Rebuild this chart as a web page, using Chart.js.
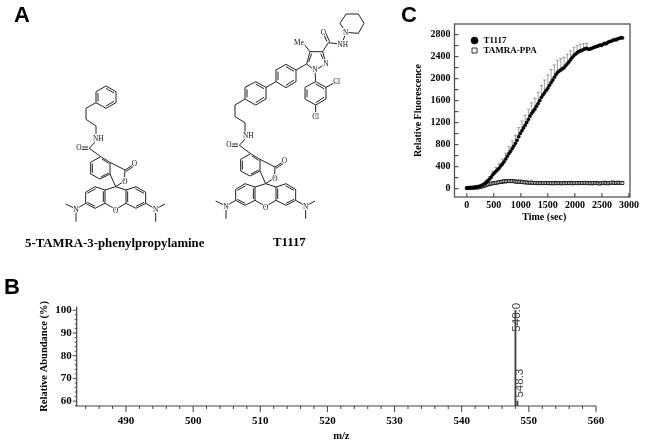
<!DOCTYPE html>
<html>
<head>
<meta charset="utf-8">
<script src="https://cdn.jsdelivr.net/npm/chart.js@4"></script>
<style>
html,body{margin:0;padding:0;background:#fff;width:645px;height:445px;overflow:hidden}
#page{position:absolute;left:0;top:0;width:645px;height:445px;filter:blur(0.35px)}
canvas,svg{position:absolute}
.t{position:absolute;white-space:nowrap;font-weight:bold;color:#000;line-height:1}
.letter{font-family:"Liberation Sans",sans-serif;font-size:22px}
.name{font-family:"Liberation Serif",serif;font-size:12.8px}
svg text{font-family:"Liberation Serif",serif;font-size:22px;fill:#111;text-anchor:middle;dominant-baseline:central;stroke:#fff;stroke-width:6px;paint-order:stroke}
svg path{fill:none;stroke:#222;stroke-width:3;stroke-linejoin:round}
</style>
</head>
<body>
<div id="page">
<div class="t letter" style="left:14px;top:4px">A</div>
<div class="t letter" style="left:4px;top:276px">B</div>
<div class="t letter" style="left:401px;top:4px">C</div>
<div class="t name" style="left:25px;top:237px">5-TAMRA-3-phenylpropylamine</div>
<div class="t name" style="left:273px;top:236px">T1117</div>

<svg width="645" height="260" viewBox="0 0 1935 780" style="left:0;top:0">
<defs>
<g id="core">
<path d="M295 415L268 445M268 445L302 470L330 487L330 522L300 537L272 522L272 487L302 470M264 441L240 441M264 448L240 448M306 477L326 490M326 519L303 531M277 491L277 518"/>
<path d="M330 487L375 510L373 543L347 560L330 522M375 510L400 494M378 514L402 498"/>
<path d="M347 560L315 570L285 560L257 577L257 610L285 625L315 610L315 570M347 560L378 570L408 560L437 577L437 610L408 625L378 610L378 570M315 610L347 628L378 610"/>
<path d="M287 566L262 580M262 607L285 619M310 606L310 574M406 566L432 580M432 607L408 619M383 606L383 574"/>
<path d="M257 610L228 627L197 612M228 627L228 665M437 610L467 627L495 612M467 627L467 665"/>
<text x="295" y="415">NH</text><text x="237" y="443">O</text><text x="403" y="491">O</text>
<text x="375" y="544">O</text><text x="347" y="630">O</text><text x="228" y="627">N</text><text x="467" y="627">N</text>
</g>
</defs>
<path d="M318 258L348 275L348 308L318 325L288 308L288 275ZM318 265L342 279M342 304L318 318M294 304L294 279M288 308L258 325L258 358L288 378L288 405"/>
<use href="#core"/>
<g transform="translate(600,0)">
<use href="#core" transform="translate(-150,-9)"/>
<path d="M135 395L135 368L105 350L105 315L135 297L135 262L167 245L198 262L198 297L167 315L135 297M141 268L141 292M167 252L192 266M192 292L167 308"/>
<path d="M198 262L228 245L228 210L258 193L288 210L288 245L258 263L228 245M234 215L234 240M258 200L282 214M282 240L258 256M288 210L320 192"/>
<path d="M320 192L345 212L378 190L368 155L330 155L320 192M326 186L335 161M362 161L372 184M330 155L310 130M368 155L385 128L428 133M381 125L370 100M389 125L376 97"/>
<path d="M438 97L420 70L438 42L475 42L492 70L475 100L438 97M428 125L438 97"/>
<path d="M345 212L347 245L378 262L378 297L347 315L315 297L315 262L347 245M347 252L372 266M372 292L347 308M321 292L321 268M378 262L410 245M347 315L347 350"/>
<text x="297" y="128">Me</text><text x="370" y="97">O</text><text x="428" y="133">NH</text><text x="437" y="98">N</text>
<text x="345" y="208">N</text><text x="378" y="190">N</text><text x="410" y="245">Cl</text><text x="347" y="350">Cl</text>
</g>
</svg>

<canvas id="chartC" width="245" height="230" style="left:400px;top:0"></canvas>
<canvas id="chartB" width="645" height="150" style="left:0;top:295px"></canvas>
</div>

<script>
// ---- Panel C data ----
const timeSec = [0,30,60,90,120,150,180,210,240,270,300,330,360,390,420,450,480,510,540,570,600,630,660,690,720,750,780,810,840,870,900,930,960,990,1020,1050,1080,1110,1140,1170,1200,1230,1260,1290,1320,1350,1380,1410,1440,1470,1500,1530,1560,1590,1620,1650,1680,1710,1740,1770,1800,1830,1860,1890,1920,1950,1980,2010,2040,2070,2100,2130,2160,2190,2220,2250,2280,2310,2340,2370,2400,2430,2460,2490,2520,2550,2580,2610,2640,2670,2700,2730,2760,2790,2820,2850,2880];
const t1117 = [15,18,20,22,25,28,32,38,45,58,72,92,118,145,175,210,255,285,315,345,375,415,450,490,540,590,640,680,730,775,825,880,945,1005,1055,1105,1155,1205,1260,1320,1370,1410,1450,1500,1550,1605,1660,1705,1745,1790,1830,1880,1930,1975,2025,2075,2115,2140,2160,2180,2200,2235,2270,2305,2345,2385,2420,2445,2470,2490,2505,2515,2530,2545,2550,2535,2540,2550,2565,2575,2585,2595,2610,2605,2625,2640,2635,2660,2675,2680,2695,2710,2705,2725,2730,2745,2740];
const tamraPpa = [8,10,12,14,16,18,20,22,28,35,45,55,65,75,85,92,98,102,108,112,118,125,128,135,132,138,142,136,140,135,130,128,125,130,120,118,112,115,108,110,112,105,104,108,100,102,98,104,100,106,102,98,100,96,102,98,105,100,96,100,104,98,102,100,106,96,102,100,104,98,106,102,100,108,104,98,102,96,104,100,106,98,94,100,104,110,100,96,104,108,112,102,106,110,104,108,102];
const t1117ErrTimes = [300,360,420,480,540,600,660,720,780,840,900,960,1020,1080,1140,1200,1260,1320,1380,1440,1500,1560,1620,1680,1740,1800,1860,1920,1980,2040,2100,2160,2220];
const t1117ErrUp = [15,30,45,65,70,80,90,105,125,140,150,165,175,180,185,190,195,205,215,230,240,235,225,220,205,190,175,160,145,130,120,110,90];
const tamraErr = [0,0,0,0,0,0,0,0,0,0,12,14,16,18,18,20,20,22,22,22,24,24,26,26,24,26,24,24,26,24,22,24,22,24,20,22,20,22,20,22,20,22,20,22,20,20,22,20,20,22,20,22,20,20,22,20,22,20,20,22,20,20,22,20,22,20,20,22,20,22,20,20,22,20,20,22,20,22,20,20,22,20,20,22,20,22,20,20,22,20,22,20,20,22,20,20,22];
const seriesNames = ["T1117","TAMRA-PPA"];
const cXTicks = [0,500,1000,1500,2000,2500,3000];
const cYTicks = [0,400,800,1200,1600,2000,2400,2800];
const cYMinor = [200,600,1000,1400,1800,2200,2600];

// ---- Panel B data ----
const mzPeaks = [548.0,548.3];
const abundance = [100,60];
const peakNames = ["548.0","548.3"];
const bXTicks = [490,500,510,520,530,540,550,560];
const bYTicks = [60,70,80,90,100];

const boldFont = s => ({family:"Liberation Serif", size:s, weight:"bold", lineHeight:1.2});
function fixed(ticks){ return scale => { scale.ticks = ticks.map(v => ({value:v})); }; }

const panelC = {
  id:"panelC",
  afterLayout(chart){
    const lg = chart.legend;
    const w = lg.right - lg.left, h = lg.bottom - lg.top;
    lg.left = 69; lg.top = 35; lg.right = lg.left + w; lg.bottom = lg.top + h;
    chart.scales.x.right += 4;
  },
  beforeDatasetsDraw(chart){
    const {ctx, scales:{x,y}} = chart;
    ctx.save();
    ctx.lineWidth = 0.7;
    ctx.strokeStyle = "#777";
    t1117ErrTimes.forEach((t,i) => {
      const v = t1117[timeSec.indexOf(t)];
      const px = x.getPixelForValue(t), y0 = y.getPixelForValue(v), y1 = y.getPixelForValue(v + t1117ErrUp[i]);
      ctx.beginPath(); ctx.moveTo(px,y0); ctx.lineTo(px,y1); ctx.moveTo(px-1.6,y1); ctx.lineTo(px+1.6,y1); ctx.stroke();
    });
    ctx.strokeStyle = "#222";
    timeSec.forEach((t,i) => {
      if(!tamraErr[i]) return;
      const px = x.getPixelForValue(t), y0 = y.getPixelForValue(tamraPpa[i]-tamraErr[i]), y1 = y.getPixelForValue(tamraPpa[i]+tamraErr[i]);
      ctx.beginPath(); ctx.moveTo(px,y0); ctx.lineTo(px,y1); ctx.moveTo(px-1.4,y0); ctx.lineTo(px+1.4,y0); ctx.moveTo(px-1.4,y1); ctx.lineTo(px+1.4,y1); ctx.stroke();
    });
    ctx.restore();
  },
  afterDraw(chart){
    const {ctx, chartArea:a, scales:{x,y}} = chart;
    ctx.save();
    ctx.strokeStyle = "#555";
    ctx.lineWidth = 1.3;
    ctx.strokeRect(a.left,a.top,a.right-a.left,a.bottom-a.top);
    ctx.lineWidth = 1;
    ctx.strokeStyle = "#333";
    ctx.beginPath();
    cXTicks.forEach(v => { const p = x.getPixelForValue(v); ctx.moveTo(p,a.bottom); ctx.lineTo(p,a.bottom-4); });
    cYTicks.concat(cYMinor).forEach(v => { const p = y.getPixelForValue(v); ctx.moveTo(a.left,p); ctx.lineTo(a.left+4,p); });
    ctx.stroke();
    ctx.restore();
  }
};

new Chart(document.getElementById("chartC"), {
  type:"scatter",
  plugins:[panelC],
  data:{datasets:[
    {label:seriesNames[0], data:timeSec.map((t,i)=>({x:t,y:t1117[i]})), order:0,
     pointStyle:"circle", pointRadius:1.6, backgroundColor:"#000", borderColor:"#000", borderWidth:0.5},
    {label:seriesNames[1], data:timeSec.map((t,i)=>({x:t,y:tamraPpa[i]})), order:1,
     pointStyle:"rect", pointRadius:2, backgroundColor:"#fff", borderColor:"#000", borderWidth:0.8}
  ]},
  options:{
    responsive:false, animation:false, devicePixelRatio:1,
    layout:{padding:{left:0,right:15,top:24,bottom:0}},
    plugins:{tooltip:{enabled:false},
      legend:{position:"chartArea",align:"start",
        labels:{usePointStyle:true,boxWidth:9,boxHeight:5,padding:1,color:"#000",font:boldFont(9)}}},
    scales:{
      x:{type:"linear",min:-228,max:3020,afterBuildTicks:fixed(cXTicks),
        afterFit(s){s.height=33;},
        border:{display:false},grid:{display:false,drawTicks:false},
        ticks:{color:"#000",font:boldFont(10),padding:2,maxRotation:0,autoSkip:false,callback:v=>String(v)},
        title:{display:true,text:"Time (sec)",color:"#000",font:boldFont(10),padding:{top:0,bottom:7}}},
      y:{type:"linear",min:-151,max:2994,afterBuildTicks:fixed(cYTicks),
        afterFit(s){s.width=54.5;},
        border:{display:false},grid:{display:false,drawTicks:false},
        ticks:{color:"#000",font:boldFont(10),padding:4,autoSkip:false,callback:v=>String(v)},
        title:{display:true,text:"Relative Fluorescence",color:"#000",font:boldFont(10),padding:{top:12,bottom:0}}}
    }
  }
});

const peakLabelShift = [[1.5,7],[2,-18]];
const panelB = {
  id:"panelB",
  afterLayout(chart){ chart.scales.x.right += 10; },
  afterDraw(chart){
    const {ctx, chartArea:a, scales:{x,y}} = chart;
    ctx.save();
    ctx.strokeStyle = "#444";
    ctx.lineWidth = 1.2;
    ctx.beginPath();
    ctx.moveTo(a.left,a.top); ctx.lineTo(a.left,a.bottom); ctx.lineTo(a.right,a.bottom);
    ctx.stroke();
    ctx.lineWidth = 1;
    ctx.beginPath();
    for(let v=484; v<=560; v+=2){ const p=x.getPixelForValue(v); ctx.moveTo(p,a.bottom); ctx.lineTo(p,a.bottom+(v%10===0?6:3)); }
    for(let v=58; v<=100; v+=2){ const p=y.getPixelForValue(v); ctx.moveTo(a.left,p); ctx.lineTo(a.left-(v%10===0?4:2),p); }
    ctx.stroke();
    ctx.fillStyle = "#444";
    ctx.font = "11.5px 'Liberation Sans', sans-serif";
    ctx.textAlign = "center";
    ctx.textBaseline = "middle";
    mzPeaks.forEach((m,i)=>{
      ctx.save();
      ctx.translate(x.getPixelForValue(m)+peakLabelShift[i][0], y.getPixelForValue(abundance[i])+peakLabelShift[i][1]);
      ctx.rotate(-Math.PI/2);
      ctx.fillText(peakNames[i],0,0);
      ctx.restore();
    });
    ctx.restore();
  }
};

new Chart(document.getElementById("chartB"), {
  type:"bar",
  plugins:[panelB],
  data:{datasets:[{data:mzPeaks.map((m,i)=>({x:m,y:abundance[i]})),backgroundColor:"#444",barThickness:1.2}]},
  options:{
    responsive:false, animation:false, devicePixelRatio:1,
    layout:{padding:{left:0,right:49,top:9,bottom:0}},
    plugins:{legend:{display:false},tooltip:{enabled:false}},
    scales:{
      x:{type:"linear",offset:false,min:482.66,max:560,afterBuildTicks:fixed(bXTicks),
        afterFit(s){s.height=39;},
        border:{display:false},grid:{display:false,drawTicks:false},
        ticks:{color:"#000",font:boldFont(11),padding:9,maxRotation:0,autoSkip:false,callback:v=>String(v)},
        title:{display:true,text:"m/z",color:"#000",font:boldFont(10.5),padding:{top:0,bottom:2}}},
      y:{type:"linear",min:57.86,max:101.6,afterBuildTicks:fixed(bYTicks),
        afterFit(s){s.width=76.7;},
        border:{display:false},grid:{display:false,drawTicks:false},
        ticks:{color:"#000",font:boldFont(11),padding:5,autoSkip:false,callback:v=>String(v)},
        title:{display:true,text:"Relative Abundance (%)",color:"#000",font:boldFont(10.5),padding:{top:38,bottom:0}}}
    }
  }
});
</script>
</body>
</html>
